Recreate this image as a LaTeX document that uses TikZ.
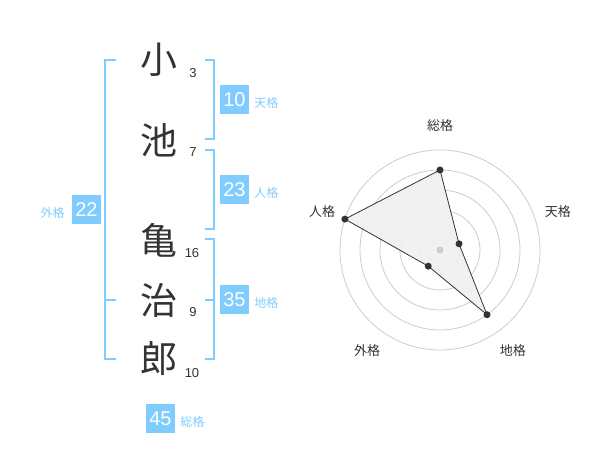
\documentclass[tikz,border=0pt]{standalone}
\usepackage{fontspec}
\setmainfont{Liberation Sans}
\newfontfamily\jpfont{Noto Sans CJK JP}
\usetikzlibrary{positioning}
\definecolor{kakublue}{HTML}{80CCFF}
\definecolor{inkgray}{HTML}{333333}
\definecolor{ringgray}{HTML}{CCCCCC}
\tikzset{
	kanji/.style={font=\jpfont\fontsize{37}{37}\selectfont, text=inkgray, inner sep=0pt},
	strokes/.style={font=\fontsize{13}{13}\selectfont, text=inkgray, inner sep=0pt},
	kakubox/.style={fill=kakublue, text=white, minimum size=29pt, inner sep=0pt,
		font=\fontsize{20}{20}\selectfont},
	kakuname/.style={text=kakublue, font=\jpfont\fontsize{12}{12}\selectfont, inner sep=0pt},
	bracket/.style={draw=kakublue, line width=2pt},
	axisname/.style={text=inkgray, font=\jpfont\fontsize{13}{13}\selectfont, inner sep=0pt},
	dot/.style={circle, fill=inkgray, inner sep=0pt, minimum size=7pt},
}
\begin{document}
\begin{tikzpicture}[x=1pt, y=1pt]
	\useasboundingbox (0,0) rectangle (600,470);
	% brackets
	\draw[bracket] (116,410) -- (105,410) -- (105,111) -- (116,111);
	\draw[bracket] (105,170) -- (116,170);
	\draw[bracket] (205,410) -- (214,410) -- (214,331) -- (205,331);
	\draw[bracket] (205,320) -- (214,320) -- (214,241) -- (205,241);
	\draw[bracket] (205,231) -- (214,231) -- (214,111) -- (205,111);
	\draw[bracket] (205,170) -- (214,170);
	% name and stroke counts
	\node[kanji] (k1) at (159,410) {小};
	\node[kanji] (k2) at (159,330) {池};
	\node[kanji] (k3) at (159,230) {亀};
	\node[kanji] (k4) at (159,170) {治};
	\node[kanji] (k5) at (159,111) {郎};
	\node[strokes] (s1) at (193,397) {3};
	\node[strokes] (s2) at (193,318) {7};
	\node[strokes] (s3) at (192,217) {16};
	\node[strokes] (s4) at (193,158) {9};
	\node[strokes] (s5) at (192,97) {10};
	% kaku values
	\node[kakubox] (ten-box) at (234.5,370) {10};
	\node[kakuname, right=5pt of ten-box, yshift=-3pt] (ten-name) {天格};
	\node[kakubox] (jin-box) at (234.5,280) {23};
	\node[kakuname, right=5pt of jin-box, yshift=-3pt] (jin-name) {人格};
	\node[kakubox] (gai-box) at (86.5,260) {22};
	\node[kakuname, left=7pt of gai-box, yshift=-3pt] (gai-name) {外格};
	\node[kakubox] (chi-box) at (234.5,170) {35};
	\node[kakuname, right=5pt of chi-box, yshift=-3pt] (chi-name) {地格};
	\node[kakubox] (sou-box) at (160.5,51) {45};
	\node[kakuname, right=5pt of sou-box, yshift=-3pt] (sou-name) {総格};
	% radar
	\begin{scope}[shift={(440,220)}]
		\foreach \r in {20,40,...,100}
			\draw[ringgray, line width=0.8pt] (0,0) circle (\r pt);
		\foreach \ang/\val/\name/\lab in {90/80/sou/総格, 18/20/ten/天格,
				-54/80/chi/地格, -126/20/gai/外格, 162/100/jin/人格} {
			\coordinate (\name) at (\ang:\val);
			\node[axisname] (\name-axis) at (\ang:124) {\lab};
		}
		\filldraw[fill=black!6, fill opacity=0.9, draw=inkgray, line width=0.8pt]
			(sou) -- (ten) -- (chi) -- (gai) -- (jin) -- cycle;
		\node[circle, fill=ringgray, inner sep=0pt, minimum size=7pt] (hub) at (0,0) {};
		\foreach \name in {sou,ten,chi,gai,jin}
			\node[dot] (\name-dot) at (\name) {};
	\end{scope}
\end{tikzpicture}
\end{document}
